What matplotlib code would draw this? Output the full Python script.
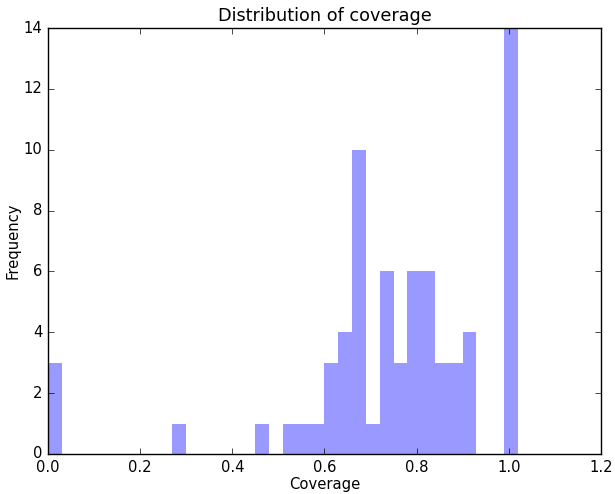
import numpy as np
import matplotlib
matplotlib.use('Agg')
from matplotlib import pyplot as plt

# bin edges of width 0.03 from 0 to 1.02
bin_width = 0.03
n_bins = 34
counts = [3, 0, 0, 0, 0, 0, 0, 0, 0, 1,
          0, 0, 0, 0, 0, 1, 0, 1, 1, 1,
          3, 4, 10, 1, 6, 3, 6, 6, 3, 3,
          4, 0, 0, 14]

edges = np.arange(n_bins + 1) * bin_width
centers = (edges[:-1] + edges[1:]) / 2

plt.style.use('classic')
plt.rcParams['font.size'] = 10.6

fig = plt.figure(figsize=(6.15, 4.94), dpi=100)
ax = fig.add_axes([0.078, 0.081, 0.899, 0.862])
ax.hist(centers, bins=edges, weights=counts, color='blue', alpha=0.4,
        linewidth=0)
ax.set_xlim(0, 1.2)
ax.set_ylim(0, 14)
ax.set_title('Distribution of coverage')
ax.set_xlabel('Coverage', labelpad=2)
ax.set_ylabel('Frequency', labelpad=2)

fig.savefig('out.png', dpi=100)
